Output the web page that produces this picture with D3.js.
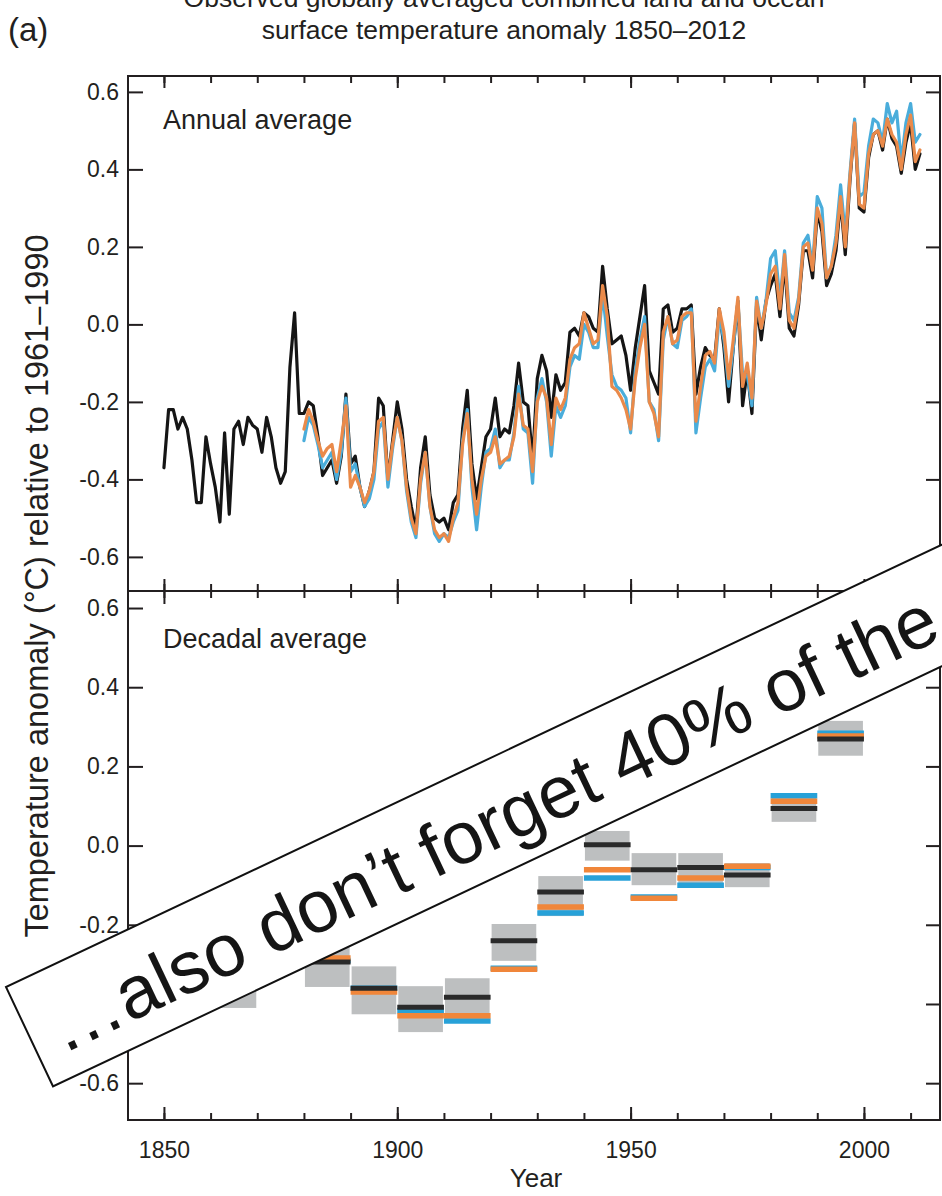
<!DOCTYPE html>
<html>
<head>
<meta charset="utf-8">
<script src="https://cdn.jsdelivr.net/npm/d3@7"></script>
<style>
    body { margin: 0; background: #fff; }
    svg text { font-family: "Liberation Sans", Arial, sans-serif; fill: #231f20; }
    .frame { fill: none; stroke: #231f20; stroke-width: 2; }
    .tick line { stroke: #231f20; stroke-width: 2; }
    .series { fill: none; stroke-width: 3.2; stroke-linejoin: round; stroke-linecap: round; }
</style>
</head>
<body>
<div id="chart"></div>
<script>
// annual series
const HADCRUT_START = 1850;
const hadcrut4 = [
    -0.37, -0.22, -0.22, -0.27, -0.24, -0.27, -0.35, -0.46, -0.46, -0.29,
    -0.36, -0.42, -0.51, -0.28, -0.49, -0.27, -0.25, -0.31, -0.24, -0.26,
    -0.27, -0.33, -0.24, -0.29, -0.37, -0.41, -0.38, -0.11, 0.03, -0.23,
    -0.23, -0.20, -0.21, -0.29, -0.39, -0.37, -0.35, -0.41, -0.34, -0.18,
    -0.36, -0.34, -0.42, -0.47, -0.43, -0.38, -0.19, -0.21, -0.40, -0.30,
    -0.20, -0.27, -0.40, -0.47, -0.53, -0.37, -0.29, -0.44, -0.50, -0.51,
    -0.50, -0.53, -0.46, -0.44, -0.27, -0.17, -0.36, -0.45, -0.37, -0.29,
    -0.27, -0.19, -0.29, -0.27, -0.28, -0.21, -0.10, -0.20, -0.21, -0.35,
    -0.14, -0.08, -0.12, -0.24, -0.13, -0.17, -0.15, -0.02, -0.01, -0.03,
    0.03, 0.02, -0.01, -0.02, 0.15, 0.04, -0.05, -0.04, -0.03, -0.08,
    -0.17, -0.06, 0.02, 0.10, -0.12, -0.15, -0.18, 0.04, 0.05, -0.02,
    -0.01, 0.04, 0.04, 0.05, -0.18, -0.11, -0.06, -0.08, -0.09, 0.04,
    -0.06, -0.20, -0.06, 0.06, -0.21, -0.12, -0.23, 0.05, -0.04, 0.06,
    0.10, 0.13, 0.02, 0.16, -0.01, -0.03, 0.05, 0.19, 0.19, 0.12,
    0.29, 0.24, 0.10, 0.13, 0.19, 0.32, 0.18, 0.37, 0.52, 0.30,
    0.29, 0.43, 0.49, 0.50, 0.45, 0.53, 0.48, 0.46, 0.39, 0.47,
    0.52, 0.40, 0.44
];
const OTHER_START = 1880;
const noaaMlost = [
    -0.27, -0.22, -0.25, -0.30, -0.34, -0.32, -0.31, -0.38, -0.30, -0.21,
    -0.42, -0.39, -0.42, -0.46, -0.43, -0.38, -0.25, -0.24, -0.40, -0.31,
    -0.24, -0.30, -0.42, -0.50, -0.54, -0.40, -0.33, -0.47, -0.53, -0.55,
    -0.54, -0.56, -0.50, -0.46, -0.31, -0.23, -0.40, -0.49, -0.40, -0.34,
    -0.33, -0.29, -0.36, -0.35, -0.34, -0.29, -0.18, -0.26, -0.27, -0.38,
    -0.20, -0.16, -0.19, -0.31, -0.19, -0.22, -0.19, -0.09, -0.06, -0.05,
    0.03, -0.01, -0.05, -0.04, 0.10, 0.02, -0.16, -0.17, -0.19, -0.22,
    -0.27, -0.14, -0.06, 0.00, -0.20, -0.23, -0.29, -0.02, 0.02, -0.05,
    -0.04, 0.02, 0.03, 0.03, -0.25, -0.16, -0.08, -0.07, -0.10, 0.04,
    -0.02, -0.14, -0.04, 0.07, -0.16, -0.10, -0.19, 0.06, -0.01, 0.05,
    0.13, 0.15, 0.04, 0.18, 0.01, -0.01, 0.06, 0.20, 0.21, 0.14,
    0.30, 0.26, 0.12, 0.15, 0.21, 0.33, 0.20, 0.38, 0.52, 0.31,
    0.30, 0.44, 0.49, 0.50, 0.46, 0.53, 0.49, 0.47, 0.40, 0.49,
    0.54, 0.42, 0.45
];
const nasaGiss = [
    -0.30, -0.24, -0.26, -0.31, -0.37, -0.35, -0.33, -0.40, -0.33, -0.19,
    -0.38, -0.36, -0.42, -0.47, -0.45, -0.40, -0.27, -0.25, -0.42, -0.32,
    -0.24, -0.30, -0.43, -0.51, -0.55, -0.41, -0.33, -0.47, -0.54, -0.56,
    -0.54, -0.55, -0.51, -0.48, -0.30, -0.22, -0.42, -0.53, -0.42, -0.33,
    -0.32, -0.27, -0.37, -0.35, -0.35, -0.28, -0.16, -0.27, -0.28, -0.41,
    -0.19, -0.14, -0.20, -0.34, -0.21, -0.24, -0.21, -0.11, -0.08, -0.09,
    0.00, -0.02, -0.06, -0.06, 0.08, -0.03, -0.13, -0.16, -0.17, -0.19,
    -0.28, -0.12, -0.04, 0.02, -0.20, -0.22, -0.30, -0.04, 0.02, -0.05,
    -0.06, 0.01, 0.02, 0.04, -0.28, -0.19, -0.11, -0.09, -0.12, 0.02,
    -0.04, -0.16, -0.06, 0.06, -0.13, -0.13, -0.21, 0.07, -0.01, 0.06,
    0.17, 0.19, 0.06, 0.19, 0.03, 0.01, 0.07, 0.21, 0.23, 0.15,
    0.33, 0.30, 0.12, 0.15, 0.23, 0.36, 0.23, 0.39, 0.53, 0.33,
    0.34, 0.46, 0.53, 0.52, 0.47, 0.57, 0.52, 0.55, 0.42, 0.52,
    0.57, 0.47, 0.49
];

// decadal averages
const decadeStarts = [1850, 1860, 1870, 1880, 1890, 1900, 1910, 1920, 1930, 1940, 1950, 1960, 1970, 1980, 1990, 2000];
const hadDecadal = [-0.31, -0.34, -0.26, -0.294, -0.36, -0.408, -0.383, -0.24, -0.117, 0.002, -0.061, -0.055, -0.074, 0.094, 0.269, 0.47];
const hadDecadalLow = [-0.40, -0.41, -0.31, -0.357, -0.426, -0.471, -0.446, -0.291, -0.178, -0.038, -0.10, -0.097, -0.105, 0.06, 0.227, 0.43];
const hadDecadalHigh = [-0.22, -0.26, -0.20, -0.22, -0.305, -0.355, -0.335, -0.198, -0.077, 0.037, -0.019, -0.019, -0.044, 0.13, 0.315, 0.52];
const noaaDecadal = [null, null, null, -0.284, -0.37, -0.43, -0.43, -0.312, -0.155, -0.061, -0.133, -0.082, -0.052, 0.112, 0.277, 0.48];
const gissDecadal = [null, null, null, -0.29, -0.36, -0.417, -0.443, -0.31, -0.17, -0.082, -0.13, -0.10, -0.055, 0.126, 0.284, 0.50];

const yTicks = [-0.6, -0.4, -0.2, 0.0, 0.2, 0.4, 0.6];
const minorYears = d3.range(1850, 2011, 10);
const majorYears = [1850, 1900, 1950, 2000];
const titleLines = ['Observed globally averaged combined land and ocean', 'surface temperature anomaly 1850\u20132012'];
const bannerText = '\u2026also don\u2019t forget 40% of the';

class AnomalyChart {
    constructor(selector) {
        this.svg = d3.select(selector).append('svg')
            .attr('width', AnomalyChart.WIDTH)
            .attr('height', AnomalyChart.HEIGHT);
        this.x = d3.scaleLinear()
            .domain([1842.3, 2016.3])
            .range([AnomalyChart.LEFT, AnomalyChart.RIGHT]);
        this.yAnnual = d3.scaleLinear().domain([-0.688, 0.641]).range([591, 76]);
        this.yDecadal = d3.scaleLinear().domain([-0.693, 0.643]).range([1120, 591]);
    }

    yearTicks(y, axis, size, values, labels = false) {
        const g = this.svg.append('g')
            .attr('transform', `translate(0,${y})`)
            .call(axis(this.x)
                .tickValues(values)
                .tickSizeInner(size)
                .tickSizeOuter(0)
                .tickPadding(22)
                .tickFormat(labels ? d3.format('d') : ''));
        g.select('.domain').remove();
        g.selectAll('text')
            .attr('font-size', 23)
            .attr('font-family', null);
    }

    valueTicks(y) {
        const fmt = d => d3.format('.1f')(d).replace('\u2212', '-');
        const left = this.svg.append('g')
            .attr('transform', `translate(${AnomalyChart.LEFT},0)`)
            .call(d3.axisLeft(y).tickValues(yTicks).tickSizeInner(-15).tickSizeOuter(0)
                .tickPadding(9).tickFormat(fmt));
        left.select('.domain').remove();
        left.selectAll('text').attr('font-size', 23).attr('font-family', null);

        const right = this.svg.append('g')
            .attr('transform', `translate(${AnomalyChart.RIGHT},0)`)
            .call(d3.axisRight(y).tickValues(yTicks).tickSizeInner(-14).tickSizeOuter(0).tickFormat(''));
        right.select('.domain').remove();
    }

    drawTitle() {
        this.svg.append('g').selectAll('text')
            .data(titleLines)
            .enter()
            .append('text')
            .attr('x', 504)
            .attr('y', (d, i) => 7 + i * 32)
            .attr('text-anchor', 'middle')
            .attr('font-size', 26.5)
            .text(d => d);

        this.svg.append('text')
            .attr('x', 8)
            .attr('y', 41)
            .attr('font-size', 33)
            .text('(a)');
    }

    drawAnnual() {
        const y = this.yAnnual;
        const series = [
            { start: HADCRUT_START, values: hadcrut4, color: '#151515' },
            { start: OTHER_START, values: nasaGiss, color: '#4aaddb' },
            { start: OTHER_START, values: noaaMlost, color: '#ea8a4a' }
        ];
        const line = d3.line()
            .x(d => this.x(d.year))
            .y(d => y(d.value));

        this.svg.append('g').selectAll('path')
            .data(series)
            .enter()
            .append('path')
            .attr('class', 'series')
            .attr('stroke', d => d.color)
            .attr('d', d => line(d.values.map((v, i) => ({ year: d.start + i, value: v }))));

        this.svg.append('text')
            .attr('x', 163)
            .attr('y', 129)
            .attr('font-size', 27)
            .text('Annual average');

        this.valueTicks(y);
    }

    drawDecadal() {
        const y = this.yDecadal;
        const x = this.x;
        const decades = decadeStarts.map((start, i) => ({
            start: start,
            had: hadDecadal[i],
            low: hadDecadalLow[i],
            high: hadDecadalHigh[i],
            noaa: noaaDecadal[i],
            giss: gissDecadal[i]
        }));

        const g = this.svg.append('g');
        g.selectAll('rect.range')
            .data(decades)
            .enter()
            .append('rect')
            .attr('class', 'range')
            .attr('x', d => x(d.start) + 1)
            .attr('width', d => x(d.start + 10) - x(d.start) - 2)
            .attr('y', d => y(d.high))
            .attr('height', d => y(d.low) - y(d.high))
            .attr('fill', '#bdbfc0');

        const bars = [
            { key: 'giss', color: '#27a1d8', width: 5.5 },
            { key: 'noaa', color: '#f0863a', width: 5.5 },
            { key: 'had', color: '#2a2a2a', width: 5 }
        ];
        bars.forEach(bar => {
            g.append('g').selectAll('line')
                .data(decades.filter(d => d[bar.key] !== null))
                .enter()
                .append('line')
                .attr('x1', d => x(d.start))
                .attr('x2', d => x(d.start + 10))
                .attr('y1', d => y(d[bar.key]))
                .attr('y2', d => y(d[bar.key]))
                .attr('stroke', bar.color)
                .attr('stroke-width', bar.width);
        });

        this.svg.append('text')
            .attr('x', 163)
            .attr('y', 648)
            .attr('font-size', 27)
            .text('Decadal average');

        this.valueTicks(y);
    }

    drawFrame() {
        this.svg.append('rect')
            .attr('class', 'frame')
            .attr('x', AnomalyChart.LEFT)
            .attr('y', 76)
            .attr('width', AnomalyChart.RIGHT - AnomalyChart.LEFT)
            .attr('height', 1120 - 76);
        this.svg.append('line')
            .attr('class', 'frame')
            .attr('x1', AnomalyChart.LEFT)
            .attr('x2', AnomalyChart.RIGHT)
            .attr('y1', 591)
            .attr('y2', 591);

        // year ticks, all pointing into the panels
        this.yearTicks(76, d3.axisTop, -7, minorYears);
        this.yearTicks(76, d3.axisTop, -12, majorYears);
        this.yearTicks(591, d3.axisBottom, -7, minorYears);
        this.yearTicks(591, d3.axisBottom, -12, majorYears);
        this.yearTicks(591, d3.axisTop, -7, minorYears);
        this.yearTicks(591, d3.axisTop, -13, majorYears);
        this.yearTicks(1120, d3.axisBottom, -7, minorYears);
        this.yearTicks(1120, d3.axisBottom, -13, majorYears, true);

        this.svg.append('text')
            .attr('x', 536)
            .attr('y', 1187)
            .attr('text-anchor', 'middle')
            .attr('font-size', 26)
            .text('Year');

        this.svg.append('text')
            .attr('transform', 'translate(48,586) rotate(-90)')
            .attr('text-anchor', 'middle')
            .attr('font-size', 32.5)
            .text('Temperature anomaly (\u00b0C) relative to 1961\u20131990');
    }

    drawBanner() {
        const g = this.svg.append('g')
            .attr('transform', `translate(6,987) rotate(${AnomalyChart.BANNER_ANGLE})`);
        g.append('rect')
            .attr('width', 1300)
            .attr('height', 110)
            .attr('fill', '#fff')
            .attr('stroke', '#111')
            .attr('stroke-width', 2);
        g.append('text')
            .attr('x', 22)
            .attr('y', 85)
            .attr('font-size', 74)
            .style('fill', '#151515')
            .text(bannerText);
    }

    draw() {
        this.drawTitle();
        this.drawDecadal();
        this.drawAnnual();
        this.drawFrame();
        this.drawBanner();
    }
}
AnomalyChart.WIDTH = 942;
AnomalyChart.HEIGHT = 1196;
AnomalyChart.LEFT = 128;
AnomalyChart.RIGHT = 940;
AnomalyChart.BANNER_ANGLE = -25.3;

new AnomalyChart('#chart').draw();
</script>
</body>
</html>
